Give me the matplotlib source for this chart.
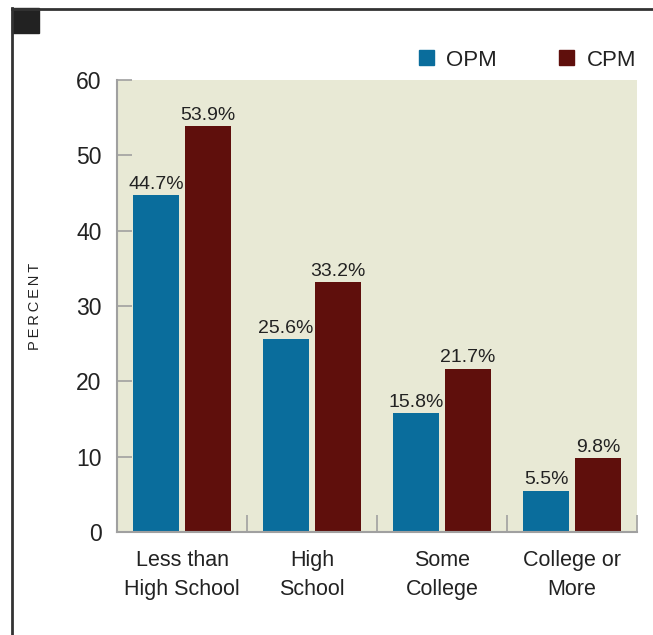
import matplotlib
matplotlib.use('Agg')
from matplotlib import pyplot as plt
from matplotlib.patches import Patch, Rectangle
from matplotlib.lines import Line2D
import numpy as np

categories = ['Less than\nHigh School', 'High\nSchool', 'Some\nCollege', 'College or\nMore']
opm = [44.7, 25.6, 15.8, 5.5]
cpm = [53.9, 33.2, 21.7, 9.8]
yticks = [0, 10, 20, 30, 40, 50, 60]

blue = '#0a6d9c'
red = '#5f0f0c'
beige = '#e8e9d5'
text_col = '#222222'
spine_col = '#a0a0a0'

plt.rcParams['font.family'] = ['Liberation Sans', 'DejaVu Sans']

W, H = 653, 635
fig = plt.figure(figsize=(W / 100, H / 100), dpi=100)
ax = fig.add_axes([117 / W, 1 - 532 / H, 520 / W, 452 / H])
ax.set_facecolor(beige)

x = np.arange(len(categories))
w = 0.36
b1 = ax.bar(x - 0.2, opm, w, color=blue, label='OPM')
b2 = ax.bar(x + 0.2, cpm, w, color=red, label='CPM')

for bars, vals in ((b1, opm), (b2, cpm)):
    for r, v in zip(bars, vals):
        ax.text(r.get_x() + r.get_width() / 2, v + 0.3, '%.1f%%' % v,
                ha='center', va='bottom', fontsize=14, color=text_col)

ax.set_xlim(-0.5, 3.5)
ax.set_ylim(0, 60)
ax.set_yticks(yticks)
ax.set_xticks(x)
ax.set_xticklabels(categories, fontsize=15.5, color=text_col, linespacing=1.5)
ax.tick_params(axis='x', length=0, pad=13)
ax.tick_params(axis='y', direction='in', length=11, width=1.2, color=spine_col,
               labelsize=16.5, labelcolor=text_col, pad=11)
# inward ticks between the groups on the bottom
ax.set_xticks([0.5, 1.5, 2.5, 3.5], minor=True)
ax.tick_params(axis='x', which='minor', direction='in', length=12, width=1.2, color=spine_col)

for s in ('top', 'right'):
    ax.spines[s].set_visible(False)
for s in ('left', 'bottom'):
    ax.spines[s].set_color(spine_col)
    ax.spines[s].set_linewidth(1.5)

fig.text(35 / W, 1 - 306 / H, 'P\u2009E\u2009R\u2009C\u2009E\u2009N\u2009T', rotation=90,
         ha='center', va='center', fontsize=10.5, color=text_col)

ax.legend(handles=[Patch(color=blue, label='OPM'), Patch(color=red, label='CPM')],
          ncol=2, frameon=False, fontsize=16, handlelength=0.68, handleheight=0.68,
          handletextpad=0.55, columnspacing=2.8, loc='center right',
          bbox_to_anchor=(636 / W, 1 - 60 / H), bbox_transform=fig.transFigure,
          labelcolor=text_col, borderaxespad=0, borderpad=0)

# frame around the figure
fig.add_artist(Line2D([12.5 / W, 12.5 / W], [0, 1 - 8 / H], color='#333333', lw=2,
                      transform=fig.transFigure))
fig.add_artist(Line2D([12 / W, 1], [1 - 8.5 / H, 1 - 8.5 / H], color='#333333', lw=2,
                      transform=fig.transFigure))
fig.add_artist(Rectangle((12 / W, 1 - 33 / H), 27 / W, 25 / H, color='#222222',
                         transform=fig.transFigure))

plt.savefig('out.png', dpi=100)
